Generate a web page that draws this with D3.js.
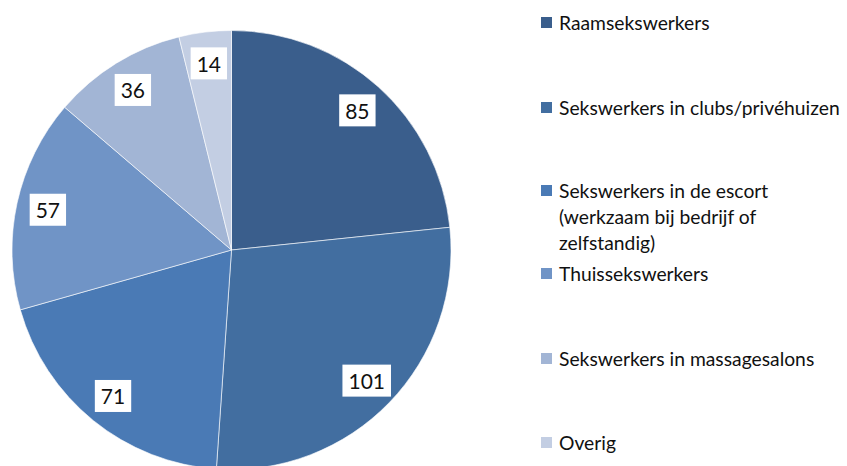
<!DOCTYPE html>
<html><head><meta charset="utf-8">
<script src="https://cdn.jsdelivr.net/npm/d3@7"></script>
<style>body{margin:0;background:#fff;}svg{display:block;}</style>
</head><body>
<svg id="c" width="847" height="466"></svg>
<script>
const categories = ["Raamsekswerkers","Sekswerkers in clubs/privéhuizen","Sekswerkers in de escort (werkzaam bij bedrijf of zelfstandig)","Thuissekswerkers","Sekswerkers in massagesalons","Overig"];
const legendLines = [["Raamsekswerkers"],["Sekswerkers in clubs/privéhuizen"],["Sekswerkers in de escort","(werkzaam bij bedrijf of","zelfstandig)"],["Thuissekswerkers"],["Sekswerkers in massagesalons"],["Overig"]];
const values = [85,101,71,57,36,14];
const colors = ["#3A5E8C","#426EA0","#4A7AB5","#7094C6","#A2B5D5","#C3CEE3"];
const legendY = [22,107,190,273,358,442];

const svg = d3.select("#c");
const font = "Lato, 'Open Sans', sans-serif";
const cx = 231.5, cy = 250, r = 219.5;
const pie = d3.pie().sort(null).value(d=>d)(values);
const arc = d3.arc().innerRadius(0).outerRadius(r);
const labelArc = d3.arc().innerRadius(188).outerRadius(188);
const g = svg.append("g").attr("transform",`translate(${cx},${cy})`);
g.selectAll("path").data(pie).join("path")
  .attr("d",arc).attr("fill",(d,i)=>colors[i])
  .attr("stroke","#fff").attr("stroke-width",0.6);
const lg = g.selectAll("g.lbl").data(pie).join("g").attr("class","lbl")
  .attr("transform",d=>`translate(${labelArc.centroid(d)})`);
lg.each(function(d){
  const sel = d3.select(this);
  const t = sel.append("text").text(d.data).attr("text-anchor","middle")
    .attr("dominant-baseline","central").attr("font-family",font).attr("font-size",21).attr("fill","#111");
  const bb = t.node().getBBox();
  sel.insert("rect","text").attr("x",-bb.width/2-6).attr("y",-16).attr("width",bb.width+12).attr("height",32).attr("fill","#fff");
});

const leg = svg.append("g");
legendLines.forEach((lines,i)=>{
  leg.append("rect").attr("x",541).attr("y",legendY[i]-5).attr("width",11).attr("height",11).attr("fill",colors[i]);
  const t = leg.append("text").attr("x",559).attr("y",legendY[i]).attr("dominant-baseline","central")
    .attr("font-family",font).attr("font-size",19.3).attr("fill","#111");
  lines.forEach((l,j)=>t.append("tspan").attr("x",559).attr("dy",j===0?0:26).text(l));
});
</script>
</body></html>
